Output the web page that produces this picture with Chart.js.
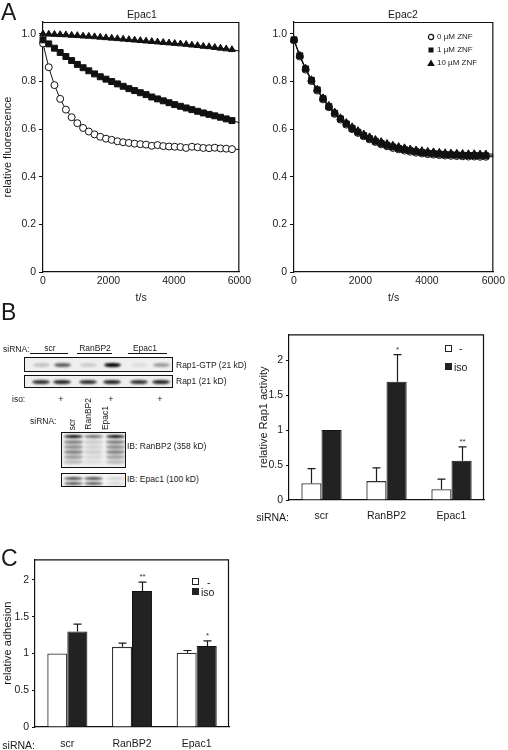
<!DOCTYPE html>
<html><head><meta charset="utf-8">
<script src="https://cdn.jsdelivr.net/npm/chart.js@4.4.1/dist/chart.umd.min.js"></script>
<style>
html,body{margin:0;padding:0;background:#fff;}
#fig{position:relative;width:508px;height:750px;overflow:hidden;font-family:"Liberation Sans",Arial,sans-serif;color:#1a1a1a;background:#fff;}
canvas{position:absolute;}
.t{position:absolute;white-space:nowrap;line-height:1;}
.blot{position:absolute;border:1.3px solid #111;background:#efefef;overflow:hidden;box-sizing:border-box;}
.band{position:absolute;border-radius:50%;filter:blur(0.8px);}
.sq{position:absolute;width:7px;height:7px;box-sizing:border-box;border:1.3px solid #222;}
.vt{position:absolute;white-space:nowrap;line-height:1;writing-mode:vertical-rl;transform:rotate(180deg);font-size:8.5px;}
</style></head>
<body><div id="fig">
<canvas id="cA1" width="254" height="305" style="left:0;top:0"></canvas>
<canvas id="cA2" width="254" height="305" style="left:254px;top:0"></canvas>
<canvas id="cB" width="252" height="200" style="left:256px;top:325px"></canvas>
<canvas id="cC" width="245" height="200" style="left:0;top:550px"></canvas>
</div>
<script>
// ---------------- data ----------------
const times = [0,175,350,525,700,875,1050,1225,1400,1575,1750,1925,2100,2275,2450,2625,2800,2975,3150,3325,3500,3675,3850,4025,4200,4375,4550,4725,4900,5075,5250,5425,5600,5775];
const tEnd = 6000;
const epac1_0uM  = [0.96,0.86,0.785,0.727,0.682,0.650,0.625,0.605,0.590,0.578,0.568,0.560,0.555,0.549,0.545,0.542,0.539,0.537,0.535,0.530,0.533,0.529,0.527,0.526,0.525,0.521,0.526,0.524,0.521,0.520,0.522,0.519,0.518,0.516];
const epac1_1uM  = [0.975,0.958,0.940,0.922,0.905,0.888,0.872,0.858,0.845,0.832,0.820,0.810,0.800,0.790,0.780,0.770,0.762,0.753,0.745,0.735,0.727,0.719,0.711,0.703,0.696,0.689,0.682,0.675,0.668,0.662,0.656,0.650,0.643,0.636];
const epac1_10uM = [1.0,0.999,0.998,0.997,0.996,0.994,0.993,0.991,0.990,0.988,0.986,0.984,0.982,0.980,0.978,0.976,0.974,0.972,0.970,0.968,0.966,0.964,0.962,0.960,0.958,0.956,0.953,0.951,0.948,0.946,0.943,0.940,0.937,0.934];
const epac1_end  = [0.515,0.627,0.928];
const epac2_0uM  = [0.973,0.905,0.850,0.802,0.762,0.725,0.692,0.664,0.640,0.619,0.600,0.584,0.570,0.557,0.546,0.536,0.528,0.521,0.515,0.510,0.505,0.501,0.498,0.495,0.493,0.491,0.489,0.488,0.487,0.486,0.485,0.485,0.484,0.484];
const epac2_1uM  = [0.975,0.908,0.853,0.805,0.765,0.728,0.695,0.667,0.643,0.622,0.603,0.587,0.573,0.560,0.549,0.540,0.532,0.525,0.519,0.514,0.509,0.505,0.502,0.499,0.497,0.495,0.493,0.492,0.491,0.490,0.489,0.489,0.488,0.488];
const epac2_10uM = [0.976,0.910,0.856,0.808,0.768,0.732,0.700,0.672,0.648,0.628,0.610,0.594,0.580,0.568,0.557,0.548,0.540,0.533,0.527,0.522,0.517,0.513,0.510,0.507,0.505,0.503,0.501,0.500,0.499,0.498,0.497,0.497,0.496,0.496];
const epac2_end  = [0.484,0.488,0.495];
const znfLabels = ['0 \u00b5M ZNF','1 \u00b5M ZNF','10 \u00b5M ZNF'];
const xTicksA = [0,2000,4000,6000];
const yTicksA = [0,0.2,0.4,0.6,0.8,1.0];

const categories = ['scr','RanBP2','Epac1'];
const rap1Neg    = [0.24,0.27,0.155];
const rap1NegErr = [0.21,0.19,0.145];
const rap1Iso    = [1.0,1.69,0.56];
const rap1IsoErr = [0,0.39,0.20];
const rap1Sig    = ['','*','**'];
const yTicksB = [0,0.5,1,1.5,2];

const adhNeg    = [1.0,1.09,1.01];
const adhNegErr = [0,0.05,0.03];
const adhIso    = [1.30,1.85,1.10];
const adhIsoErr = [0.10,0.12,0.07];
const adhSig    = ['','**','*'];
const yTicksC = [0,0.5,1,1.5,2];

// blot band intensities (6 lanes: scr -, scr +, RanBP2 -, RanBP2 +, Epac1 -, Epac1 +)
const gtpBands  = [0.18,0.6,0.15,1.0,0.07,0.35];
const rap1Bands = [0.8,0.85,0.8,0.85,0.8,0.85];

// ---------------- helpers ----------------
const fig = document.getElementById('fig');
const FONT = '"Liberation Sans", Arial, sans-serif';
Chart.defaults.font.family = FONT;
Chart.defaults.color = '#1a1a1a';

function T(text, x, y, size, align, cls) {
  const d = document.createElement('div');
  d.className = cls || 't';
  d.textContent = text;
  d.style.left = x + 'px'; d.style.top = y + 'px'; d.style.fontSize = size + 'px';
  const tx = align === 'center' ? '-50%' : align === 'right' ? '-100%' : '0';
  d.style.transform = 'translate(' + tx + ',-50%)';
  fig.appendChild(d); return d;
}

const boxPlugin = {id:'box', afterDraw(chart){
  const {ctx, chartArea:{left,top,right,bottom}} = chart;
  ctx.save(); ctx.strokeStyle = '#111'; ctx.lineWidth = 1.2;
  ctx.beginPath(); ctx.moveTo(left, top + 0.5); ctx.lineTo(right - 0.5, top + 0.5); ctx.lineTo(right - 0.5, bottom); ctx.stroke();
  ctx.restore();
}};

const errPlugin = {id:'errbars', afterDatasetsDraw(chart){
  const ctx = chart.ctx, y = chart.scales.y;
  ctx.save();
  chart.data.datasets.forEach((ds, i) => {
    const meta = chart.getDatasetMeta(i);
    meta.data.forEach((el, j) => {
      const e = ds.errors ? ds.errors[j] : 0;
      let top = y.getPixelForValue(ds.data[j]);
      const x = Math.round(el.x) + 0.5;
      if (e > 0) {
        const yt = y.getPixelForValue(ds.data[j] + e);
        ctx.strokeStyle = '#1a1a1a'; ctx.lineWidth = 1.2;
        ctx.beginPath(); ctx.moveTo(x, top); ctx.lineTo(x, yt);
        ctx.moveTo(x - 4, yt); ctx.lineTo(x + 4, yt); ctx.stroke();
        top = yt;
      }
      if (ds.sig && ds.sig[j]) {
        ctx.fillStyle = '#333'; ctx.font = '8px ' + FONT;
        ctx.textAlign = 'center'; ctx.textBaseline = 'bottom';
        ctx.fillText(ds.sig[j], x, top - 1);
      }
    });
  });
  ctx.restore();
}};

const markers = [
  {style:'circle', r:3.5, fill:'#fff'},
  {style:'rect', r:4.2, fill:'#111'},
  {style:'triangle', r:3.9, fill:'#111'}
];
function series(vals, end) {
  return times.map((t, i) => ({x:t, y:vals[i]})).concat([{x:tEnd, y:end}]);
}

function makeLine(id, sets, ends, yTitle, yWidth, padRight) {
  new Chart(document.getElementById(id), {
    type:'scatter',
    data:{datasets: sets.map((vals, k) => ({
      label: znfLabels[k], data: series(vals, ends[k]), showLine:true,
      borderColor:'#111', borderWidth:1,
      pointStyle: markers[k].style,
      pointRadius: c => c.dataIndex < times.length ? markers[k].r : 0,
      pointBackgroundColor: markers[k].fill, pointBorderColor:'#111', pointBorderWidth:1,
      clip:false, order: 3 - k
    }))},
    options:{
      responsive:false, animation:false, events:[],
      layout:{padding:{top:22, right:padRight, left:0, bottom:0}},
      plugins:{legend:{display:false}, tooltip:{enabled:false}},
      scales:{
        x:{type:'linear', min:0, max:tEnd,
          afterBuildTicks: s => { s.ticks = xTicksA.map(v => ({value:v})); },
          afterFit: s => { s.height = 33; },
          grid:{display:false, drawTicks:false}, border:{display:true, color:'#111', width:1.2},
          ticks:{padding:3, color:'#1a1a1a', font:{size:10.5}, maxRotation:0, autoSkip:false, callback: v => String(v)},
          title:{display:true, text:'t/s', padding:{top:0, bottom:1}, font:{size:10.5}, color:'#1a1a1a'}},
        y:{type:'linear', min:0, max:1.05,
          afterBuildTicks: s => { s.ticks = yTicksA.map(v => ({value:v})); },
          afterFit: s => { s.width = yWidth; },
          grid:{display:true, drawOnChartArea:false, drawTicks:true, tickLength:4, color:'#111', lineWidth:1},
          border:{display:true, color:'#111', width:1.2},
          ticks:{padding:3, color:'#1a1a1a', font:{size:10.5}, autoSkip:false, callback: v => v === 0 ? '0' : Number(v).toFixed(1)},
          title:{display:!!yTitle, text:yTitle || '', padding:{top:1, bottom:0}, font:{size:11}, color:'#1a1a1a'}}
      }
    },
    plugins:[boxPlugin]
  });
}

function makeBar(id, neg, negErr, iso, isoErr, sig, yMax, yTicks, yTitle, yWidth, padTop, padRight, xHeight, labelPad) {
  new Chart(document.getElementById(id), {
    type:'bar',
    data:{labels:categories, datasets:[
      {label:'-', data:neg, errors:negErr, backgroundColor:'#fff', borderColor:'#333', borderWidth:1.3},
      {label:'iso', data:iso, errors:isoErr, sig:sig, backgroundColor:'#222', borderColor:'#111', borderWidth:1}
    ]},
    options:{
      responsive:false, animation:false, events:[],
      categoryPercentage:0.62, barPercentage:1.0,
      layout:{padding:{top:padTop, right:padRight, left:0, bottom:0}},
      plugins:{legend:{display:false}, tooltip:{enabled:false}},
      scales:{
        x:{grid:{display:false, drawTicks:false}, border:{display:true, color:'#111', width:1.2},
          afterFit: s => { s.height = xHeight; },
          ticks:{padding:labelPad, color:'#1a1a1a', font:{size:10.5}, maxRotation:0}},
        y:{min:0, max:yMax,
          afterBuildTicks: s => { s.ticks = yTicks.map(v => ({value:v})); },
          afterFit: s => { s.width = yWidth; },
          grid:{display:true, drawOnChartArea:false, drawTicks:true, tickLength:3, color:'#111', lineWidth:1},
          border:{display:true, color:'#111', width:1.2},
          ticks:{padding:3, color:'#1a1a1a', font:{size:10.5}, autoSkip:false, callback: v => String(v)},
          title:{display:true, text:yTitle, padding:{top:1, bottom:0}, font:{size:11}, color:'#1a1a1a'}}
      }
    },
    plugins:[boxPlugin, errPlugin]
  });
}

// ---------------- charts ----------------
makeLine('cA1', [epac1_0uM, epac1_1uM, epac1_10uM], epac1_end, 'relative fluorescence', 43, 9);
makeLine('cA2', [epac2_0uM, epac2_1uM, epac2_10uM], epac2_end, '', 40, 12);
makeBar('cB', rap1Neg, rap1NegErr, rap1Iso, rap1IsoErr, rap1Sig, 2.37, yTicksB, 'relative Rap1 activity', 33, 7, 24, 25, 10);
makeBar('cC', adhNeg, adhNegErr, adhIso, adhIsoErr, adhSig, 2.28, yTicksC, 'relative adhesion', 35, 7, 16, 23, 11);

// ---------------- texts ----------------
T('A', 1, 12, 23); T('B', 1, 312, 23); T('C', 1, 558, 23);
T('Epac1', 142, 14, 10.5, 'center'); T('Epac2', 403, 14, 10.5, 'center');

// Epac2 legend
const svgNS = 'http://www.w3.org/2000/svg';
const lg = document.createElementNS(svgNS, 'svg');
lg.setAttribute('width', '10'); lg.setAttribute('height', '38');
lg.style.position = 'absolute'; lg.style.left = '427px'; lg.style.top = '32px';
lg.innerHTML = '<circle cx="4" cy="5" r="2.6" fill="#fff" stroke="#111" stroke-width="1.2"/>' +
  '<rect x="1.5" y="15.5" width="5" height="5" fill="#111"/>' +
  '<polygon points="4,27.5 7.8,34 0.2,34" fill="#111"/>';
fig.appendChild(lg);
znfLabels.forEach((s, k) => T(s, 437, 37 + k * 13, 8));

// Bar legends
function sq(x, y, fill) { const d = document.createElement('div'); d.className = 'sq'; d.style.left = x + 'px'; d.style.top = y + 'px'; d.style.background = fill; fig.appendChild(d); }
sq(445, 345, '#fff'); T('-', 459, 348, 10.5); sq(445, 363, '#222'); T('iso', 454, 366.5, 10.5);
sq(192, 578, '#fff'); T('-', 207, 581.5, 10.5); sq(192, 588, '#222'); T('iso', 201, 592, 10.5);
T('siRNA:', 289, 517, 10.5, 'right');
T('siRNA:', 35, 745, 10.5, 'right');

// ---------------- blots ----------------
function blot(x, y, w, h, bands, bg) {
  const b = document.createElement('div'); b.className = 'blot';
  b.style.left = x + 'px'; b.style.top = y + 'px'; b.style.width = w + 'px'; b.style.height = h + 'px';
  if (bg) b.style.background = bg;
  bands.forEach(bd => {
    const e = document.createElement('div'); e.className = 'band';
    e.style.left = (bd.cx - bd.w / 2) + 'px'; e.style.top = (bd.cy - bd.h / 2) + 'px';
    e.style.width = bd.w + 'px'; e.style.height = bd.h + 'px';
    e.style.background = 'rgba(0,0,0,' + bd.a + ')';
    b.appendChild(e);
  });
  fig.appendChild(b);
}
const lanes6 = [16, 37, 63, 87, 114, 136];
blot(24, 357, 149, 15, gtpBands.map((a, i) => ({cx:lanes6[i], cy:6.5, w:17, h:4, a})));
blot(24, 375, 149, 13, rap1Bands.map((a, i) => ({cx:lanes6[i], cy:5.5, w:18, h:4, a})));
T('siRNA:', 3, 349, 8.5);
[['scr', 50], ['RanBP2', 95], ['Epac1', 145]].forEach(([s, x]) => T(s, x, 348, 8.5, 'center'));
[[30, 68], [77, 112], [128, 167]].forEach(([a, b]) => {
  const l = document.createElement('div'); l.style.position = 'absolute'; l.style.left = a + 'px'; l.style.top = '353px';
  l.style.width = (b - a) + 'px'; l.style.height = '1px'; l.style.background = '#111'; fig.appendChild(l);
});
T('Rap1-GTP (21 kD)', 176, 365, 8.5); T('Rap1 (21 kD)', 176, 381, 8.5);
T('iso:', 12, 399, 8.5);
[1, 3, 5].forEach(i => T('+', 24 + lanes6[i], 399, 9, 'center'));

// lower blots
const lanes3 = [11, 31, 53];
const ranRows = [3.5, 9, 14, 19, 24, 29];
const ranInt = [[0.95,0.45,0.4,0.45,0.35,0.22],[0.55,0.15,0.12,0.14,0.1,0.07],[0.95,0.45,0.4,0.45,0.33,0.22]];
const ranBands = [];
lanes3.forEach((cx, li) => ranRows.forEach((cy, ri) => ranBands.push({cx, cy, w:19, h:3.5, a:ranInt[li][ri]})));
blot(61, 432, 65, 36, ranBands, '#f0f0f0');
const epRows = [4, 9];
const epInt = [[0.72,0.68],[0.72,0.66],[0.14,0.12]];
const epBands = [];
lanes3.forEach((cx, li) => epRows.forEach((cy, ri) => epBands.push({cx, cy, w:19, h:3, a:epInt[li][ri]})));
blot(61, 473, 65, 14, epBands, '#f5f5f5');
T('siRNA:', 30, 421, 8.5);
[['scr', 73], ['RanBP2', 89], ['Epac1', 106]].forEach(([s, x]) => {
  const d = document.createElement('div'); d.className = 'vt'; d.textContent = s;
  d.style.left = (x - 5) + 'px'; d.style.bottom = (750 - 430) + 'px'; fig.appendChild(d);
});
T('IB: RanBP2 (358 kD)', 127, 446, 8.5); T('IB: Epac1 (100 kD)', 127, 479, 8.5);
</script>
</body></html>
